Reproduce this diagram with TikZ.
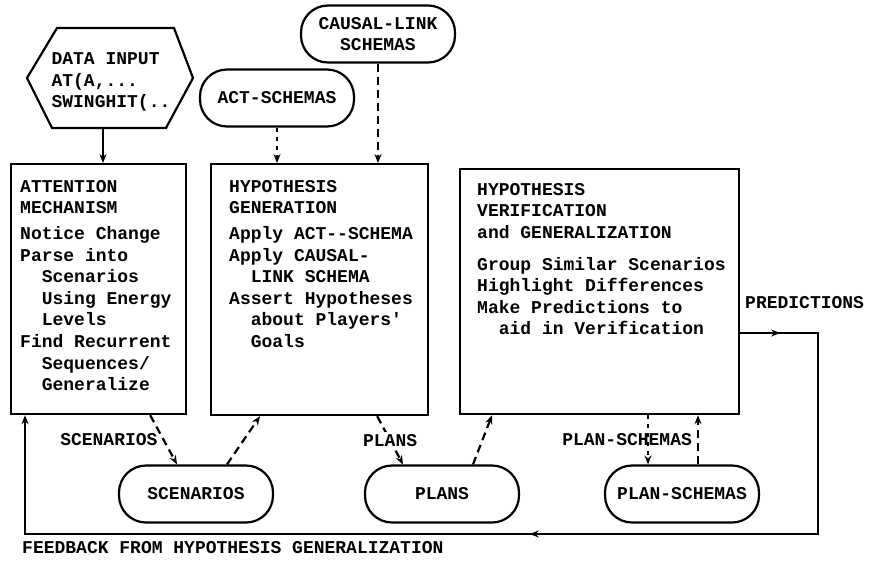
\documentclass[tikz,border=0pt]{standalone}
\usepackage{fontspec}
\setmonofont{Liberation Mono}
\usetikzlibrary{arrows.meta,decorations.markings}
\newcommand{\ind}{\hspace*{21.6pt}}
\tikzset{
  lbl/.style={font=\fontsize{18}{21.6}\selectfont\ttfamily\bfseries, inner sep=0pt},
  txt/.style={lbl, align=left, anchor=north west},
  procbox/.style={draw, line width=2.2pt, anchor=north west, inner sep=0pt},
  store/.style={lbl, draw, line width=2.2pt, rounded corners=27pt, minimum width=154pt, minimum height=57pt},
  flow/.style={line width=2.2pt, -{Stealth[length=9pt,width=7pt]}},
  dflow/.style={flow, dash pattern=on 8pt off 5pt},
  dotflow/.style={flow, dash pattern=on 4pt off 5pt},
}
\begin{document}
\begin{tikzpicture}[x=1pt,y=-1pt]
        \useasboundingbox (0,0) rectangle (869,563);
        %% data input
        \node[lbl, align=left] (data) at (111,82) {DATA INPUT\\AT(A,...\\SWINGHIT(..};
        \draw[line width=2.2pt] (57,28) -- (174,28) -- (193,78) -- (166,128) -- (52,128) -- (27,78) -- cycle;
        \coordinate (dataout) at (103,128);
        %% processes
        \node[procbox, minimum width=175pt, minimum height=250pt] (att) at (10,163) {};
        \node[procbox, minimum width=217pt, minimum height=251pt] (gen) at (210,163) {};
        \node[procbox, minimum width=279pt, minimum height=245pt] (ver) at (459,168) {};
        \node[txt] (atttext) at (20,180) {ATTENTION\\MECHANISM\\[4pt]Notice Change\\Parse into\\\ind Scenarios\\\ind Using Energy\\\ind Levels\\Find Recurrent\\\ind Sequences/\\\ind Generalize};
        \node[txt] (gentext) at (229,180) {HYPOTHESIS\\GENERATION\\[4pt]Apply ACT--SCHEMA\\Apply CAUSAL-\\\ind LINK SCHEMA\\Assert Hypotheses\\\ind about Players'\\\ind Goals};
        \node[txt] (vertext) at (477,183) {HYPOTHESIS\\VERIFICATION\\and GENERALIZATION\\[10pt]Group Similar Scenarios\\Highlight Differences\\Make Predictions to\\\ind aid in Verification};
        %% schemas and results
        \node[store] (act) at (277,98) {ACT-SCHEMAS};
        \node[store, align=center] (causal) at (378,34) {CAUSAL-LINK\\SCHEMAS};
        \node[store] (scen) at (196,494) {SCENARIOS};
        \node[store] (plans) at (442,494) {PLANS};
        \node[store] (pschem) at (682,494) {PLAN-SCHEMAS};
        %% connections
        \draw[flow] (dataout) -- (att.north -| dataout);
        \draw[dotflow] (act.south) -- (act.south |- gen.north);
        \draw[dflow] (causal.south) -- (causal.south |- gen.north);
        \draw[dflow] ([xshift=-37pt]att.south east) -- node[lbl, left=5pt] {SCENARIOS} ([xshift=-19pt]scen.north);
        \draw[dflow] ([xshift=31pt]scen.north) -- ([xshift=50pt]gen.south west);
        \draw[dflow] ([xshift=-52pt]gen.south east) -- node[lbl, fill=white, inner sep=2pt] {PLANS} ([xshift=-39pt]plans.north);
        \draw[dflow] ([xshift=31pt]plans.north) -- ([xshift=33pt]ver.south west);
        \draw[dotflow] ([xshift=189pt]ver.south west) -- ([xshift=-34pt]pschem.north);
        \draw[dflow] ([xshift=16pt]pschem.north) -- node[lbl, left=5pt] {PLAN-SCHEMAS} ([xshift=16pt]pschem.north |- ver.south);
        %% feedback loop
        \coordinate (p1) at (818,333);
        \coordinate (p2) at (818,534);
        \coordinate (p3) at (25,534);
        \draw[flow, postaction={decorate}, decoration={markings,
            mark=at position 40pt with {\arrow{Stealth[length=9pt,width=7pt]}},
            mark=at position 567pt with {\arrow{Stealth[length=9pt,width=7pt]}}}]
            (ver.east |- p1) -- (p1) -- (p2) -- (p3) -- (p3 |- att.south);
        \node[lbl, anchor=west] (pred) at (745,303) {PREDICTIONS};
        \node[lbl, anchor=west] (fb) at (22,548) {FEEDBACK FROM HYPOTHESIS GENERALIZATION};
    \end{tikzpicture}
\end{document}
